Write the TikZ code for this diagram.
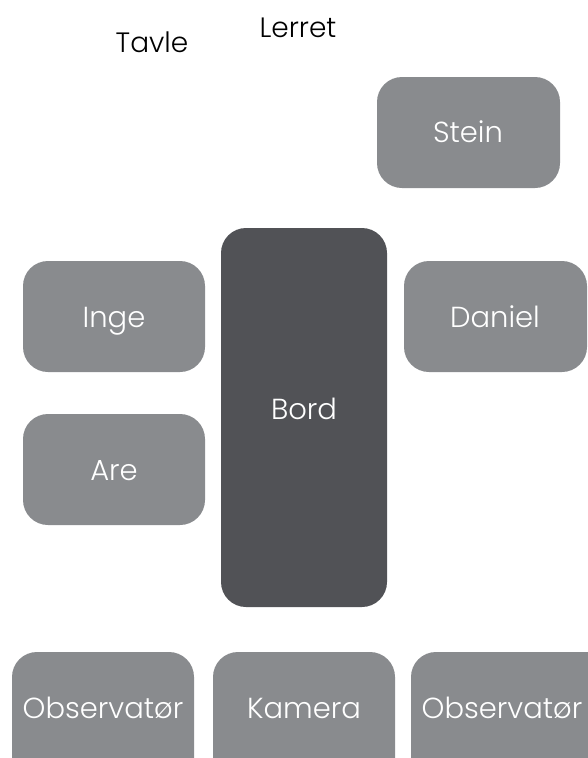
\documentclass[tikz,border=0pt]{standalone}
\usepackage{fontspec}
\setmainfont{Poppins}[UprightFont=* Light]
\definecolor{boxgray}{HTML}{898B8E}
\definecolor{boxdark}{HTML}{515256}
\begin{document}
\begin{tikzpicture}[x=1pt,y=-1pt,
  pbox/.style={fill=boxgray,rounded corners=25pt},
  dbox/.style={fill=boxdark,rounded corners=25pt},
  lbl/.style={text=white,anchor=base,inner sep=0pt,font=\fontsize{29}{33}\selectfont},
  ttl/.style={text=black,anchor=base,inner sep=0pt,font=\fontsize{28}{32}\selectfont}]
\useasboundingbox (0,0) rectangle (588,758);
\begin{scope}
\clip (0,0) rectangle (588,758);
\fill[pbox] (377,77) rectangle (560,188);
\fill[pbox] (23,261) rectangle (205,372);
\fill[pbox] (404,261) rectangle (587,372);
\fill[pbox] (23,414) rectangle (205,525);
\fill[dbox] (221,228) rectangle (387,607);
\fill[pbox] (12,652) rectangle (194,790);
\fill[pbox] (213,652) rectangle (395,790);
\fill[pbox] (411,652) rectangle (620,790);
\end{scope}
\node[ttl] (tavle) at (152,52) {Tavle};
\node[ttl] (lerret) at (298,37) {Lerret};
\node[lbl] (stein) at (468,142) {Stein};
\node[lbl] (inge) at (114,327) {Inge};
\node[lbl] (daniel) at (495,327) {Daniel};
\node[lbl] (are) at (114,480) {Are};
\node[lbl] (bord) at (304,419) {Bord};
\node[lbl] (obs1) at (103,718) {Observatør};
\node[lbl] (kamera) at (304,718) {Kamera};
\node[lbl] (obs2) at (502,718) {Observatør};
\end{tikzpicture}
\end{document}
